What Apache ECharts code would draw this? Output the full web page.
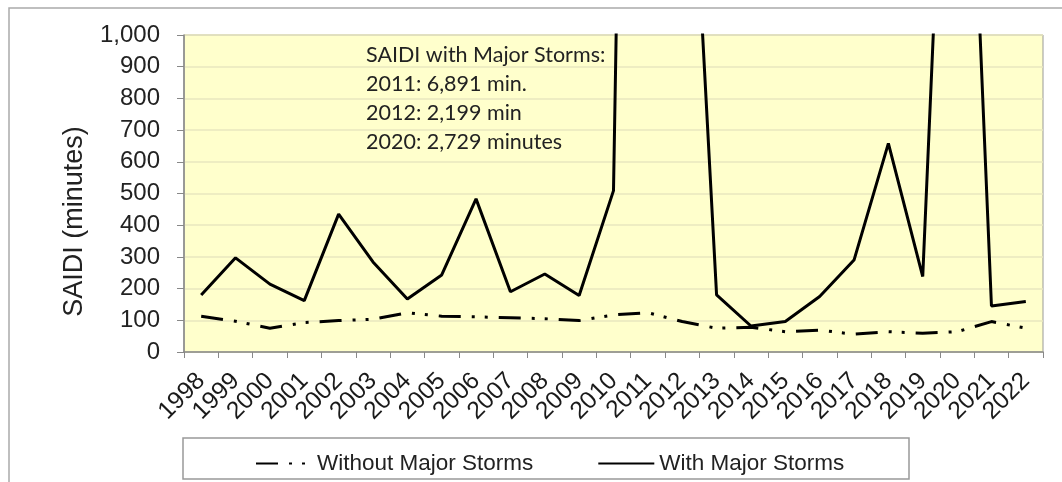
<!DOCTYPE html>
<html>
<head>
<meta charset="utf-8">
<script src="https://cdn.jsdelivr.net/npm/echarts@6/dist/echarts.min.js"></script>
<style>
  html, body { margin: 0; padding: 0; background: #fff; }
  #chart { width: 1062px; height: 482px; }
</style>
</head>
<body>
<div id="chart"></div>
<script>
const years = ["1998", "1999", "2000", "2001", "2002", "2003", "2004", "2005", "2006", "2007",
  "2008", "2009", "2010", "2011", "2012", "2013", "2014", "2015", "2016", "2017",
  "2018", "2019", "2020", "2021", "2022"];
const withoutStorms = [113, 97, 75, 93, 99, 103, 124, 113, 111, 108,
  105, 99, 117, 124, 96, 75, 78, 64, 69, 56,
  64, 59, 64, 96, 75];
const withStorms = [180, 297, 214, 162, 435, 284, 167, 243, 483, 190,
  246, 178, 509, 6891, 2199, 180, 82, 96, 175, 290,
  658, 238, 2729, 145, 159];
const noteLines = [
  "SAIDI with Major Storms:",
  "2011: 6,891 min.",
  "2012: 2,199 min",
  "2020: 2,729 minutes"
];

const chart = echarts.init(document.getElementById("chart"));

const notes = noteLines.map((t, i) => ({
  type: "text",
  left: 366,
  top: 44 + i * 29,
  z: 10,
  style: { text: t, fill: "#222", font: "21.5px Lato" }
}));

chart.setOption({
  animation: false,
  backgroundColor: "#fff",
  textStyle: { fontFamily: "Liberation Sans" },
  grid: {
    left: 184,
    right: 19,
    top: 35,
    bottom: 130,
    show: true,
    backgroundColor: "#FFFFCC",
    borderColor: "#999",
    borderWidth: 1
  },
  graphic: [
    {
      type: "rect",
      shape: { x: 9, y: 8, width: 1100, height: 500 },
      style: { fill: "none", stroke: "#aaa", lineWidth: 1.5 },
      silent: true
    },
    {
      type: "rect",
      shape: { x: 183, y: 438, width: 726, height: 41 },
      style: { fill: "#fff", stroke: "#999", lineWidth: 1.5 },
      silent: true,
      z: -1
    }
  ].concat(notes),
  legend: {
    left: 250,
    top: 447,
    itemWidth: 56,
    itemHeight: 22,
    itemGap: 64,
    itemStyle: { opacity: 0 },
    textStyle: { fontSize: 22.5, color: "#222", fontFamily: "Liberation Sans" },
    data: ["Without Major Storms", "With Major Storms"]
  },
  xAxis: {
    type: "category",
    data: years,
    boundaryGap: true,
    axisLine: { lineStyle: { color: "#888", width: 1.5 } },
    axisTick: { show: true, length: 6, interval: 0, lineStyle: { color: "#888" } },
    axisLabel: { interval: 0, rotate: 45, fontSize: 24.5, color: "#1a1a1a", margin: 25 }
  },
  yAxis: {
    type: "value",
    min: 0,
    max: 1000,
    interval: 100,
    name: "SAIDI (minutes)",
    nameLocation: "middle",
    nameGap: 96,
    nameTextStyle: { fontSize: 27, color: "#222", padding: [0, 56, 0, 0] },
    axisLine: { show: true, lineStyle: { color: "#888", width: 1.5 } },
    axisTick: { show: true, length: 7, lineStyle: { color: "#888" } },
    axisLabel: {
      fontSize: 24,
      color: "#222",
      margin: 24,
      formatter: v => v.toLocaleString("en-US")
    },
    splitLine: { show: true, lineStyle: { color: "#E9E7BF", width: 1.5 } }
  },
  series: [
    {
      name: "Without Major Storms",
      type: "line",
      data: withoutStorms,
      symbol: "none",
      clip: true,
      lineStyle: { color: "#000", width: 3, type: [22, 11, 3, 10, 3, 11] },
      itemStyle: { color: "#000" }
    },
    {
      name: "With Major Storms",
      type: "line",
      data: withStorms,
      symbol: "none",
      clip: true,
      lineStyle: { color: "#000", width: 3 },
      itemStyle: { color: "#000" }
    }
  ]
});
</script>
</body>
</html>
